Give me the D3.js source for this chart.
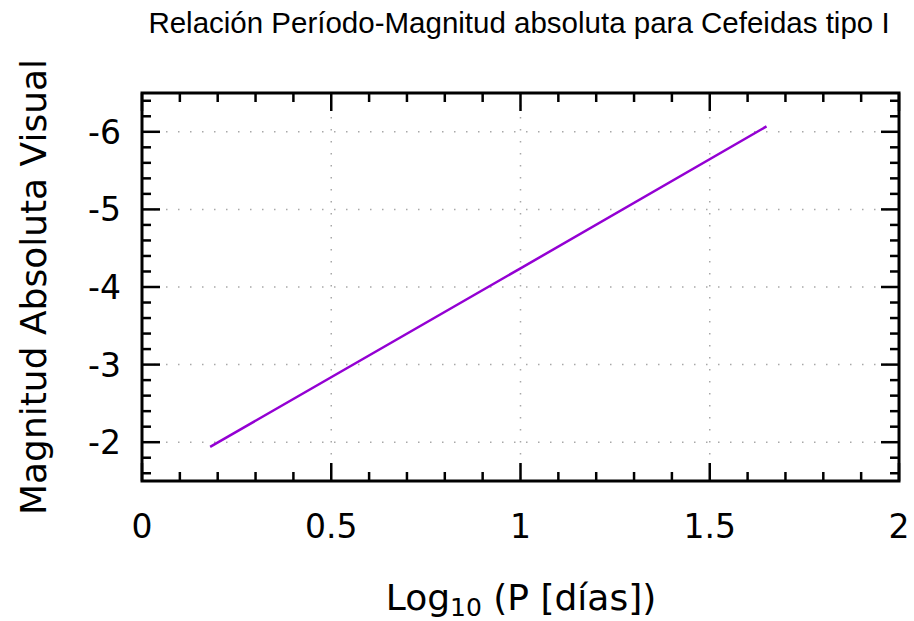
<!DOCTYPE html>
<html>
<head>
<meta charset="utf-8">
<script src="https://cdn.jsdelivr.net/npm/d3@7"></script>
<style>
  body { margin: 0; background: #fff; }
</style>
</head>
<body>
<div id="chart"></div>
<script>
// data
let logP = [0.18, 1.0, 1.65];
let magV = [-1.94, -4.24, -6.07];
let x_ticks = [0, 0.5, 1, 1.5, 2];
let x_labels = ["0", "0.5", "1", "1.5", "2"];
let y_ticks = [-6, -5, -4, -3, -2];
let y_labels = ["-6", "-5", "-4", "-3", "-2"];

let width = 914, height = 621;
let margin = { left: 142, right: 15, top: 93, bottom: 140 };
let chart_width = width - margin.left - margin.right;
let chart_height = height - margin.top - margin.bottom;

let svg = d3.select("#chart").append("svg")
  .attr("width", width)
  .attr("height", height);

let g = svg.append("g")
  .attr("transform", `translate(${margin.left},${margin.top})`);

let x_scale = d3.scaleLinear().domain([0, 2]).range([0, chart_width]);
// y reversed: brighter (more negative) at the top
let y_scale = d3.scaleLinear().domain([-1.5, -6.5]).range([chart_height, 0]);

// grid (dotted, major ticks only)
g.append("g").selectAll("line.gx")
  .data(x_ticks.filter(d => d > 0 && d < 2))
  .enter().append("line")
  .attr("x1", d => x_scale(d)).attr("x2", d => x_scale(d))
  .attr("y1", 0).attr("y2", chart_height)
  .attr("stroke", "#a8a8a8").attr("stroke-width", 1.5)
  .attr("stroke-dasharray", "1.5,10.5");

g.append("g").selectAll("line.gy")
  .data(y_ticks)
  .enter().append("line")
  .attr("y1", d => y_scale(d)).attr("y2", d => y_scale(d))
  .attr("x1", 0).attr("x2", chart_width)
  .attr("stroke", "#a8a8a8").attr("stroke-width", 1.5)
  .attr("stroke-dasharray", "1.5,10.5");

// ticks on all four sides, inward
let x_minor = d3.range(0.1, 2, 0.1).filter(d => Math.abs(d * 2 - Math.round(d * 2)) > 1e-6);
let y_minor = d3.range(-6.4, -1.5, 0.2).filter(d => Math.abs(d - Math.round(d)) > 1e-6);

function xTicks(vals, len) {
  [0, chart_height].forEach((y0, k) => {
    g.append("g").selectAll("line")
      .data(vals).enter().append("line")
      .attr("x1", d => x_scale(d)).attr("x2", d => x_scale(d))
      .attr("y1", y0).attr("y2", k == 0 ? y0 + len : y0 - len)
      .attr("stroke", "#000").attr("stroke-width", 2.5);
  });
}
function yTicks(vals, len) {
  [0, chart_width].forEach((x0, k) => {
    g.append("g").selectAll("line")
      .data(vals).enter().append("line")
      .attr("y1", d => y_scale(d)).attr("y2", d => y_scale(d))
      .attr("x1", x0).attr("x2", k == 0 ? x0 + len : x0 - len)
      .attr("stroke", "#000").attr("stroke-width", 2.5);
  });
}
xTicks(x_ticks, 18);
xTicks(x_minor, 9);
yTicks(y_ticks, 18);
yTicks(y_minor, 9);

// frame
g.append("rect")
  .attr("width", chart_width).attr("height", chart_height)
  .attr("fill", "none").attr("stroke", "#000").attr("stroke-width", 3);

// tick labels
g.append("g").selectAll("text")
  .data(x_ticks).enter().append("text")
  .attr("x", d => x_scale(d))
  .attr("y", chart_height + 57)
  .attr("text-anchor", "middle")
  .style("font-family", "DejaVu Sans")
  .style("font-size", "33px")
  .text((d, i) => x_labels[i]);

g.append("g").selectAll("text")
  .data(y_ticks).enter().append("text")
  .attr("x", -21)
  .attr("y", d => y_scale(d) + 12)
  .attr("text-anchor", "end")
  .style("font-family", "DejaVu Sans")
  .style("font-size", "33px")
  .text((d, i) => y_labels[i]);

// the line
let pts = logP.map((d, i) => [d, magV[i]]);
g.append("path")
  .datum(pts)
  .attr("fill", "none")
  .attr("stroke", "#9400d3")
  .attr("stroke-width", 2.5)
  .attr("d", d3.line().x(d => x_scale(d[0])).y(d => y_scale(d[1])));

// title
svg.append("text")
  .attr("x", 519).attr("y", 33)
  .attr("text-anchor", "middle")
  .style("font-family", "Liberation Sans")
  .style("font-size", "29.5px")
  .text("Relación Período-Magnitud absoluta para Cefeidas tipo I");

// x label
let xl = svg.append("text")
  .attr("x", 521).attr("y", 610)
  .attr("text-anchor", "middle")
  .style("font-family", "DejaVu Sans")
  .style("font-size", "36px");
xl.append("tspan").text("Log");
xl.append("tspan").attr("dy", 6).style("font-size", "25px").text("10");
xl.append("tspan").attr("dy", -6).text(" (P [días])");

// y label
svg.append("text")
  .attr("transform", `translate(46,${margin.top + chart_height / 2}) rotate(-90)`)
  .attr("text-anchor", "middle")
  .style("font-family", "DejaVu Sans")
  .style("font-size", "36px")
  .text("Magnitud Absoluta Visual");
</script>
</body>
</html>
